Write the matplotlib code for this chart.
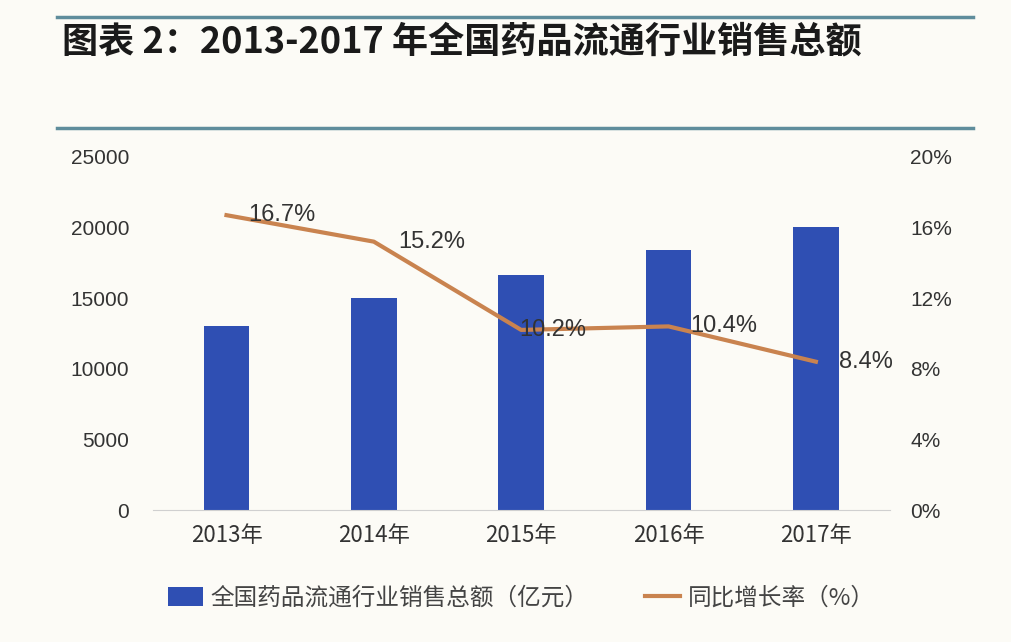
import numpy as np
import matplotlib.pyplot as plt
from matplotlib.lines import Line2D

plt.rcParams['font.family'] = ['Liberation Sans', 'Noto Sans CJK SC', 'DejaVu Sans']

years = ['2013年', '2014年', '2015年', '2016年', '2017年']
sales = [13036, 15021, 16613, 18393, 20016]        # 亿元
growth = [16.7, 15.2, 10.2, 10.4, 8.4]             # %

bar_color = '#2F4FB3'
line_color = '#C9834F'
bg = '#FCFBF6'
cjk = ['Noto Sans CJK SC', 'DejaVu Sans']

fig = plt.figure(figsize=(10.12, 6.42), dpi=100, facecolor=bg)
ax = fig.add_axes([0.151, 0.2056, 0.728, 0.55], facecolor=bg)
x = np.arange(len(years))
bars = ax.bar(x, sales, width=0.31, color=bar_color, zorder=2)
ax.set_xlim(-0.5, len(years) - 0.5)
ax.set_ylim(0, 25000)
ax.set_yticks(np.arange(0, 25001, 5000))
ax.set_xticks(x)
ax.set_xticklabels(years, family=cjk, fontsize=16, color='#333333')
ax.tick_params(axis='y', labelsize=15, colors='#333333', length=0, pad=17)
ax.tick_params(axis='x', length=0, pad=10)
for s in ['top', 'right', 'left']:
    ax.spines[s].set_visible(False)
ax.spines['bottom'].set_color('#D0D0D0')

ax2 = ax.twinx()
ax2.set_ylim(0, 20)
ax2.set_yticks(np.arange(0, 21, 4))
ax2.set_yticklabels(['%d%%' % v for v in range(0, 21, 4)])
ax2.tick_params(axis='y', labelsize=15, colors='#333333', length=0, pad=15)
for s in ax2.spines.values():
    s.set_visible(False)
line, = ax2.plot(x, growth, color=line_color, lw=3, zorder=3)
dx = [22, 24, -2, 22, 23]
for xi, g, d in zip(x, growth, dx):
    ax2.annotate('%.1f%%' % g, (xi, g), xytext=(d, 0), textcoords='offset pixels',
                 ha='left', va='center', fontsize=17, color='#333333')

fig.legend([bars, line], ['全国药品流通行业销售总额（亿元）', '同比增长率（%）'],
           loc='center', bbox_to_anchor=(0.515, 0.068), ncol=2, frameon=False,
           prop={'family': cjk, 'size': 17}, handlelength=1.5, handleheight=0.9,
           columnspacing=2.4, handletextpad=0.3, labelcolor='#444444')

fig.text(0.061, 0.934, '图表 2：2013-2017 年全国药品流通行业销售总额', family=cjk,
         fontsize=26, fontweight='bold', style='italic', color='#1a1a1a', va='center')
for yy in [0.9735, 0.80]:
    fig.add_artist(Line2D([0.056, 0.961], [yy, yy], color='#5F8D9C', lw=2.5))

fig.savefig('out.png', dpi=100, facecolor=bg)
